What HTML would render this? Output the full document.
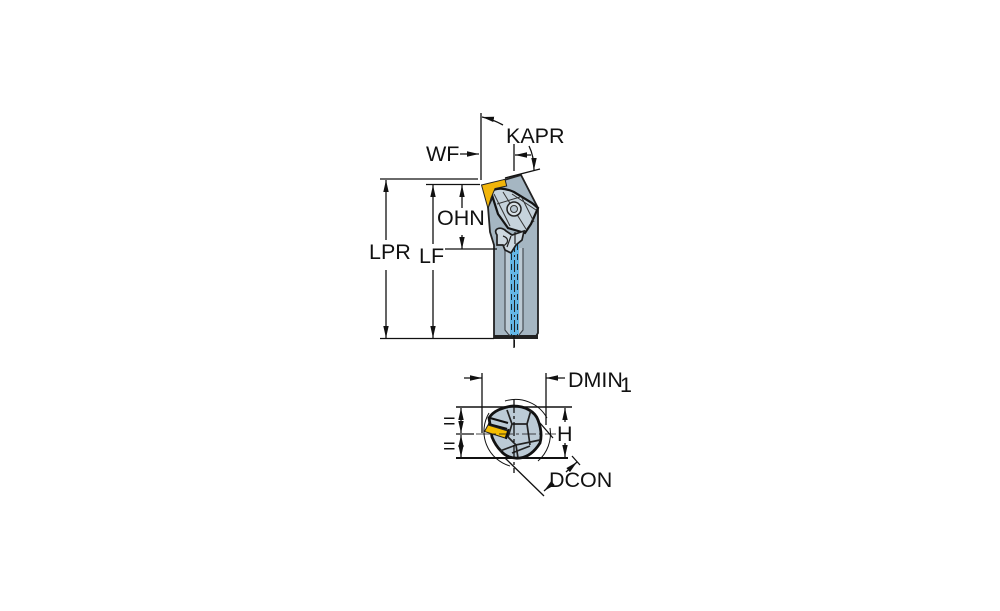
<!DOCTYPE html>
<html><head><meta charset="utf-8"><style>
html,body{margin:0;padding:0;background:#fff}
svg{display:block}
text{font-family:"Liberation Sans",sans-serif;font-size:21.500px;fill:#111}
</style></head><body>
<svg width="1000" height="611" viewBox="0 0 1000 611" xmlns="http://www.w3.org/2000/svg">
<defs>
<marker id="a" markerWidth="13" markerHeight="8" refX="12" refY="3" orient="auto-start-reverse" markerUnits="userSpaceOnUse"><path d="M0 0.300L12 3L0 5.700Z" fill="#111"/></marker>
</defs>
<!-- upper tool body -->
<path d="M504 180L521 175L538 208L538 333L535 338L494 338L494 245L490 232L488 207L497 188Z" fill="#a5b6c2" stroke="#222" stroke-width="1.800"/>
<path d="M494 335H538V339H494Z" fill="#222"/>
<path d="M505 248V330L509 335H519L523 330V248" fill="#bccad4" stroke="#3c4248" stroke-width="1.100"/>
<rect x="510" y="244" width="9" height="91" fill="#63b6e6"/>
<path d="M511.500 244V336M517.500 244V336" stroke="#1b2a35" stroke-width="1" stroke-dasharray="6 4" fill="none"/>
<path d="M514.500 240V347" stroke="#222" stroke-width="1" stroke-dasharray="12 3 2 3" fill="none"/>
<!-- clamp -->
<path d="M491 192C496 187 505 188 514 192L532 203L538 208L531 224L525 233L508 228L498 214Z" fill="#c6d3dc" stroke="#141414" stroke-width="2.200"/>
<path d="M494 194L510 226M503 192L526 229M512 194L536 210M497 204L520 197M522 198L534 222" stroke="#333" stroke-width="1" fill="none"/>
<circle cx="514" cy="209" r="7" fill="#d7e0e6" stroke="#222" stroke-width="1.500"/>
<circle cx="514" cy="209" r="3.500" fill="#b7c6d1" stroke="#333"/>
<!-- insert -->
<path d="M481.500 185L505 179.300L506.700 186L495 188.500L491 198L488 208.500Z" fill="#f1b50a" stroke="#222" stroke-width="1"/>
<!-- lower clamp pieces -->
<path d="M497 235C492 228 502 226 506 231L512 235L524 231L522 240L516 245L511 253L505 250L503 245L497 245Z" fill="#cdd8e0" stroke="#1e1e1e" stroke-width="1.700"/>
<path d="M503 236C509 238 509 243 503 246M511 236L507 247M515 232V244" stroke="#222" stroke-width="1.200" fill="none"/>
<!-- upper dims -->
<g stroke="#111" stroke-width="1.300" fill="none">
<path d="M481 113V180"/>
<path d="M380 179H478"/>
<path d="M426 184.500H480"/>
<path d="M445 249H497"/>
<path d="M380 338.500H494"/>
<path d="M514 348V335"/>
<path d="M514 171V144"/>
<path d="M505 178L540 169"/>
<path d="M460 154H479" marker-end="url(#a)"/>
<path d="M503 125Q492 119 482 117" marker-end="url(#a)"/>
<path d="M529 146Q534 156 534 170" marker-end="url(#a)"/>
<path d="M531 155H515" marker-end="url(#a)"/>
<path d="M386 240V180" marker-end="url(#a)"/>
<path d="M386 270V338" marker-end="url(#a)"/>
<path d="M433 244V185" marker-end="url(#a)"/>
<path d="M433 270V338" marker-end="url(#a)"/>
<path d="M462 208V185" marker-end="url(#a)"/>
<path d="M462 235V249" marker-end="url(#a)"/>
</g>
<text x="506" y="143">KAPR</text>
<text x="426" y="161">WF</text>
<text x="437" y="225">OHN</text>
<text x="369" y="259">LPR</text>
<text x="419" y="263">LF</text>
<!-- lower tool -->
<path d="M489 418C493 411 503 407 513 406C526 406 535 412 538 420C541 428 542 436 540 443C535 451 528 457 520 458C512 459 505 456 501 451C497 447 494 442 492 437Z" fill="#bccbd6" stroke="#111" stroke-width="2.800"/>
<path d="M490 418L508 423M488 424L507 429" stroke="#111" stroke-width="2.200" fill="none"/>
<path d="M507 410L512 424L508 437M512 424H527L531 410M527 424L530 445M508 437L516 445L540 440M500 451L516 445L518 458M512 453L530 446" stroke="#222" stroke-width="1.700" fill="none"/>
<path d="M488 425L508 431L505 438L484.500 431.500Z" fill="#f4bd00" stroke="#222" stroke-width="1"/>
<path d="M508.500 429L506 439" stroke="#111" stroke-width="2"/>
<!-- lower dims -->
<g stroke="#111" stroke-width="1.300" fill="none">
<path d="M482 373V433M546 373V425"/>
<path d="M456 407H572" stroke-width="1.500"/>
<path d="M456 458H568" stroke-width="1.900"/>
<path d="M456 434H474"/>
<path d="M464 378H482" marker-end="url(#a)"/>
<path d="M565 378H546" marker-end="url(#a)"/>
<path d="M461 421V408" marker-end="url(#a)"/>
<path d="M461 421V433" marker-end="url(#a)"/>
<path d="M461 446V435" marker-end="url(#a)"/>
<path d="M461 446V457" marker-end="url(#a)"/>
<path d="M565 422V408" marker-end="url(#a)"/>
<path d="M565 443V457" marker-end="url(#a)"/>
<path d="M514 399V473" stroke-dasharray="14 3 3 3"/>
<path d="M476 434H556" stroke-dasharray="14 3 3 3" stroke-width=".8"/>
<path d="M505 401A36 36 0 0 1 547 418" stroke-width="1"/>
<path d="M550 428A36 36 0 0 1 538 461" stroke-width="1"/>
<path d="M489 413A36 36 0 0 0 510 466" stroke-width="1"/>
<path d="M540 423L553 438"/>
<path d="M505 458L544 496"/>
<path d="M572 456L580 465"/>
<path d="M566 472L577 462" marker-end="url(#a)"/>
<path d="M553 483L544 491" marker-end="url(#a)"/>
</g>
<text x="568" y="387">DMIN</text>
<text x="620" y="392">1</text>
<text x="557" y="441">H</text>
<text x="549" y="487">DCON</text>
<text x="443" y="428">=</text>
<text x="443" y="453">=</text>
</svg>
</body></html>
